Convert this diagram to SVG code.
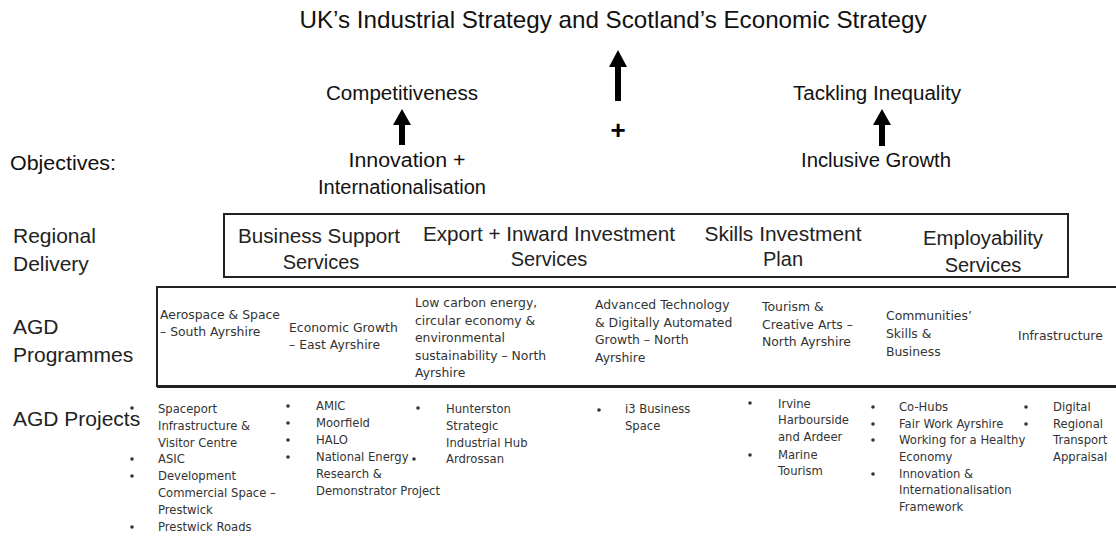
<svg xmlns="http://www.w3.org/2000/svg" width="1116" height="537" viewBox="0 0 1116 537">
<style>
.cond{font-family:"Liberation Sans Narrow","Liberation Sans",Arial,sans-serif;fill:#111;font-size:20px}
.title{font-size:24px}
.mid{text-anchor:middle}
.plus{font-family:"Liberation Sans",Arial,sans-serif;font-size:26px;font-weight:bold;fill:#000;text-anchor:middle}
.lab{font-family:"Liberation Sans",Arial,sans-serif;fill:#222;font-size:21px}
.rd{font-family:"Liberation Sans",Arial,sans-serif;fill:#222;font-size:20px;text-anchor:middle}
.pg{font-family:"DejaVu Sans",Verdana,sans-serif;fill:#333;font-size:12.4px}
.pj{font-family:"DejaVu Sans",Verdana,sans-serif;fill:#333;font-size:11.6px}
.box{fill:none;stroke:#222;stroke-width:2}
.arr{stroke:#000;stroke-width:6;fill:none}
.bul{fill:#333}
</style>
<defs>
<marker id="head" markerUnits="userSpaceOnUse" viewBox="0 0 16 18" markerWidth="16" markerHeight="18" refX="1" refY="9" orient="auto">
<path d="M0,0 L16,9 L0,18 Z" fill="#000"/>
</marker>
<marker id="headBig" markerUnits="userSpaceOnUse" viewBox="0 0 17 18" markerWidth="17" markerHeight="18" refX="1" refY="9" orient="auto">
<path d="M0,0 L17,9 L0,18 Z" fill="#000"/>
</marker>
</defs>
<rect width="1116" height="537" fill="#fff"/>

<g id="title">
<text class="cond title mid" x="613" y="28" textLength="627" lengthAdjust="spacingAndGlyphs">UK’s Industrial Strategy and Scotland’s Economic Strategy</text>
</g>
<g id="competitiveness">
<text class="cond mid" x="402" y="100" textLength="152" lengthAdjust="spacingAndGlyphs">Competitiveness</text>
</g>
<g id="tackling-inequality">
<text class="cond mid" x="877" y="100" textLength="168" lengthAdjust="spacingAndGlyphs">Tackling Inequality</text>
</g>
<g id="plus">
<text class="plus" x="618" y="139">+</text>
</g>
<g id="objectives-label">
<text class="cond" x="10" y="170" textLength="106" lengthAdjust="spacingAndGlyphs">Objectives:</text>
</g>
<g id="innovation">
<text class="cond mid" x="407" y="167" textLength="117" lengthAdjust="spacingAndGlyphs">Innovation +</text>
<text class="cond mid" x="402" y="194" textLength="168" lengthAdjust="spacingAndGlyphs">Internationalisation</text>
</g>
<g id="inclusive-growth">
<text class="cond mid" x="876" y="167" textLength="150" lengthAdjust="spacingAndGlyphs">Inclusive Growth</text>
</g>

<g id="connectors">
<line class="arr" x1="618" y1="101" x2="618" y2="66" marker-end="url(#headBig)"/>
<line class="arr" x1="402" y1="145" x2="402" y2="124" marker-end="url(#head)"/>
<line class="arr" x1="882" y1="146" x2="882" y2="124" marker-end="url(#head)"/>
</g>

<g id="row-labels">
<text class="lab" x="13" y="243">Regional</text>
<text class="lab" x="13" y="271">Delivery</text>
<text class="lab" x="13" y="334">AGD</text>
<text class="lab" x="13" y="362">Programmes</text>
<text class="lab" x="13" y="426">AGD Projects</text>
</g>

<g id="regional-delivery">
<rect class="box" x="224" y="214" width="844" height="63"/>
<g id="business-support">
<text class="rd" x="319" y="243" textLength="162" lengthAdjust="spacingAndGlyphs">Business Support</text>
<text class="rd" x="321" y="269">Services</text>
</g>
<g id="export-inward">
<text class="rd" x="549" y="241" textLength="252" lengthAdjust="spacingAndGlyphs">Export + Inward Investment</text>
<text class="rd" x="549" y="266">Services</text>
</g>
<g id="skills-investment">
<text class="rd" x="783" y="241" textLength="157" lengthAdjust="spacingAndGlyphs">Skills Investment</text>
<text class="rd" x="783" y="266">Plan</text>
</g>
<g id="employability">
<text class="rd" x="983" y="245" textLength="120" lengthAdjust="spacingAndGlyphs">Employability</text>
<text class="rd" x="983" y="272">Services</text>
</g>
</g>

<g id="agd-programmes">
<path d="M1118,287 H157 V386 H1118" fill="none" stroke="#222" stroke-width="2"/>
<line x1="157" y1="386.5" x2="1118" y2="386.5" stroke="#222" stroke-width="3"/>
<g id="prog-aerospace">
<text class="pg" x="160" y="319">Aerospace &amp; Space</text>
<text class="pg" x="160" y="336">– South Ayrshire</text>
</g>
<g id="prog-economic">
<text class="pg" x="289" y="332">Economic Growth</text>
<text class="pg" x="289" y="349">– East Ayrshire</text>
</g>
<g id="prog-lowcarbon">
<text class="pg" x="415" y="307">Low carbon energy,</text>
<text class="pg" x="415" y="325">circular economy &amp;</text>
<text class="pg" x="415" y="342">environmental</text>
<text class="pg" x="415" y="360">sustainability – North</text>
<text class="pg" x="415" y="377">Ayrshire</text>
</g>
<g id="prog-advanced">
<text class="pg" x="595" y="309">Advanced Technology</text>
<text class="pg" x="595" y="327">&amp; Digitally Automated</text>
<text class="pg" x="595" y="344">Growth – North</text>
<text class="pg" x="595" y="362">Ayrshire</text>
</g>
<g id="prog-tourism">
<text class="pg" x="762" y="311">Tourism &amp;</text>
<text class="pg" x="762" y="329">Creative Arts –</text>
<text class="pg" x="762" y="346">North Ayrshire</text>
</g>
<g id="prog-communities">
<text class="pg" x="886" y="320">Communities’</text>
<text class="pg" x="886" y="338">Skills &amp;</text>
<text class="pg" x="886" y="356">Business</text>
</g>
<g id="prog-infrastructure">
<text class="pg" x="1018" y="340">Infrastructure</text>
</g>
</g>

<g id="agd-projects">
<g id="proj-aerospace">
<circle class="bul" cx="132" cy="408" r="1.8"/>
<circle class="bul" cx="132" cy="459" r="1.8"/>
<circle class="bul" cx="132" cy="476" r="1.8"/>
<circle class="bul" cx="132" cy="527" r="1.8"/>
<text class="pj" x="158" y="413">Spaceport</text>
<text class="pj" x="158" y="430">Infrastructure &amp;</text>
<text class="pj" x="158" y="447">Visitor Centre</text>
<text class="pj" x="158" y="463">ASIC</text>
<text class="pj" x="158" y="480">Development</text>
<text class="pj" x="158" y="497">Commercial Space –</text>
<text class="pj" x="158" y="514">Prestwick</text>
<text class="pj" x="158" y="531">Prestwick Roads</text>
</g>
<g id="proj-economic">
<circle class="bul" cx="288" cy="406" r="1.8"/>
<circle class="bul" cx="288" cy="423" r="1.8"/>
<circle class="bul" cx="288" cy="440" r="1.8"/>
<circle class="bul" cx="288" cy="457" r="1.8"/>
<text class="pj" x="316" y="410">AMIC</text>
<text class="pj" x="316" y="427">Moorfield</text>
<text class="pj" x="316" y="444">HALO</text>
<text class="pj" x="316" y="461">National Energy</text>
<text class="pj" x="316" y="478">Research &amp;</text>
<text class="pj" x="316" y="495">Demonstrator Project</text>
</g>
<g id="proj-lowcarbon">
<circle class="bul" cx="418" cy="408" r="1.8"/>
<circle class="bul" cx="414" cy="459" r="1.8"/>
<text class="pj" x="446" y="413">Hunterston</text>
<text class="pj" x="446" y="430">Strategic</text>
<text class="pj" x="446" y="447">Industrial Hub</text>
<text class="pj" x="446" y="463">Ardrossan</text>
</g>
<g id="proj-advanced">
<circle class="bul" cx="599" cy="410" r="1.8"/>
<text class="pj" x="625" y="413">i3 Business</text>
<text class="pj" x="625" y="430">Space</text>
</g>
<g id="proj-tourism">
<circle class="bul" cx="750" cy="403" r="1.8"/>
<circle class="bul" cx="750" cy="455" r="1.8"/>
<text class="pj" x="778" y="408">Irvine</text>
<text class="pj" x="778" y="424">Harbourside</text>
<text class="pj" x="778" y="441">and Ardeer</text>
<text class="pj" x="778" y="459">Marine</text>
<text class="pj" x="778" y="475">Tourism</text>
</g>
<g id="proj-communities">
<circle class="bul" cx="873" cy="407" r="1.8"/>
<circle class="bul" cx="873" cy="424" r="1.8"/>
<circle class="bul" cx="873" cy="440" r="1.8"/>
<circle class="bul" cx="873" cy="474" r="1.8"/>
<text class="pj" x="899" y="411">Co-Hubs</text>
<text class="pj" x="899" y="428">Fair Work Ayrshire</text>
<text class="pj" x="899" y="444">Working for a Healthy</text>
<text class="pj" x="899" y="461">Economy</text>
<text class="pj" x="899" y="478">Innovation &amp;</text>
<text class="pj" x="899" y="494">Internationalisation</text>
<text class="pj" x="899" y="511">Framework</text>
</g>
<g id="proj-infrastructure">
<circle class="bul" cx="1026" cy="407" r="1.8"/>
<circle class="bul" cx="1026" cy="424" r="1.8"/>
<text class="pj" x="1053" y="411">Digital</text>
<text class="pj" x="1053" y="428">Regional</text>
<text class="pj" x="1053" y="444">Transport</text>
<text class="pj" x="1053" y="461">Appraisal</text>
</g>
</g>
</svg>
